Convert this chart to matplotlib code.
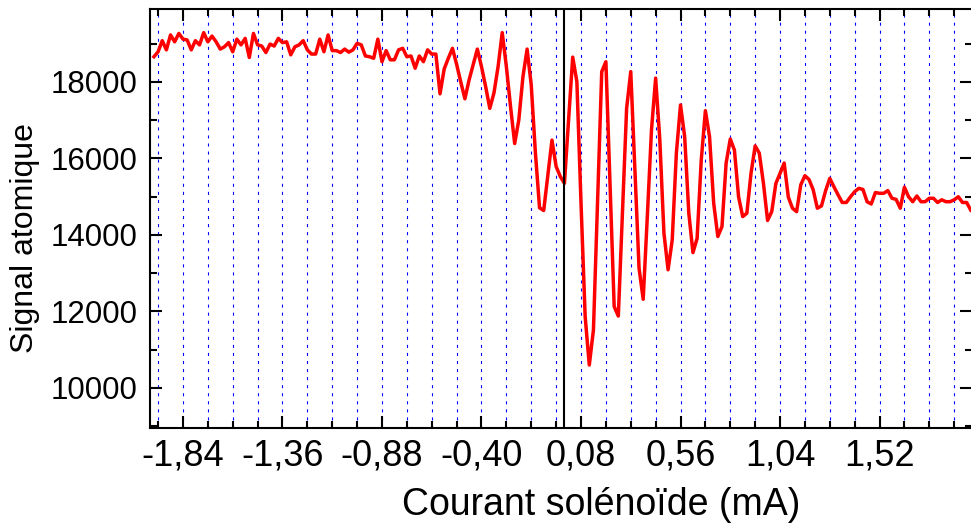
import numpy as np
import matplotlib
matplotlib.use('Agg')
import matplotlib.pyplot as plt
from matplotlib.ticker import MultipleLocator, FixedLocator, FuncFormatter

plt.rcParams['font.family'] = ['Liberation Sans', 'DejaVu Sans']
plt.rcParams['lines.scale_dashes'] = False

# Solenoid current sweep (mA), one sample every 0.02 mA starting at -1.98
x_start = -1.98
x_step = 0.02

signal = [
    18660, 18790, 19080, 18840, 19230, 19050, 19270, 19120, 19100, 18840,
    19080, 18970, 19290, 19050, 19200, 19050, 18860, 18920, 19030, 18790,
    19120, 18970, 19140, 18640, 19270, 18970, 18940, 18770, 18990, 18940,
    19140, 19030, 19050, 18710, 18920, 18970, 19080, 18840, 18730, 18730,
    19120, 18790, 19230, 18820, 18820, 18770, 18860, 18780, 18840, 19010,
    18970, 18680, 18660, 18620, 19120, 18530, 18820, 18580, 18580, 18840,
    18880, 18660, 18680, 18360, 18680, 18530, 18840, 18730, 18730, 17690,
    18340, 18620, 18880, 18460, 18000, 17560, 18050, 18450, 18860, 18400,
    17880, 17310, 17710, 18400, 19290, 18400, 17360, 16390, 17010, 18140,
    18860, 17920, 16150, 14710, 14640, 15570, 16480, 15790, 15530, 15350,
    17010, 18650, 18010, 14840, 11870, 10600, 11520, 14920, 18270, 18530,
    15360, 12130, 11880, 14600, 17310, 18270, 15700, 13130, 12320,
    14500, 16750, 18100, 16500, 14050, 13090, 13870, 16140, 17400, 16570,
    14570, 13540, 13910, 15960, 17250, 16570, 14830, 13960, 14220, 15880,
    16510, 16220, 15000, 14480, 14570, 15610, 16330, 16140, 15350, 14380,
    14610, 15350, 15610, 15880, 14990, 14700, 14610, 15310, 15550, 15450,
    15180, 14700, 14760, 15160, 15480, 15260, 15050, 14850, 14850, 15000,
    15130, 15220, 15190, 14870, 14810, 15110, 15090, 15090, 15160, 14960,
    14930, 14700, 15250, 15000, 14870, 15020, 14870, 14870, 14960, 14960,
    14850, 14920, 14870, 14870, 14920, 15000, 14850, 14850, 14650,
]
current = x_start + x_step * np.arange(len(signal))

x_major = [-1.84, -1.36, -0.88, -0.40, 0.08, 0.56, 1.04, 1.52]
y_major = [10000, 12000, 14000, 16000, 18000]

fig = plt.figure(figsize=(9.71, 5.23), dpi=100)
ax = fig.add_axes([150 / 971, (523 - 427.7) / 523, 822 / 971, 418.7 / 523])

ax.plot(current, signal, color='#ff0000', lw=2.5, zorder=3)
ax.axvline(0, color='black', lw=1.5, zorder=4)

ax.set_xlim(-1.999, 1.966)
ax.set_ylim(8962, 19908)

ax.xaxis.set_major_locator(FixedLocator(x_major))
ax.xaxis.set_minor_locator(MultipleLocator(0.12, offset=0.08))
ax.xaxis.set_major_formatter(FuncFormatter(lambda v, p: f'{v:.2f}'.replace('.', ',')))
ax.yaxis.set_major_locator(FixedLocator(y_major))
ax.yaxis.set_minor_locator(MultipleLocator(1000))

ax.grid(True, axis='x', which='both', color='blue', lw=0.8, ls=(0, (2.2, 3.6)))

ax.tick_params(which='both', direction='in', top=True, right=True, width=1.5, color='black')
ax.tick_params(which='major', length=8.5)
ax.tick_params(which='minor', length=5)
ax.tick_params(axis='x', which='major', labelsize=26, pad=8)
ax.tick_params(axis='y', which='major', labelsize=22.5, pad=9)

for s in ax.spines.values():
    s.set_linewidth(1.5)

ax.set_xlabel('Courant solénoïde (mA)', fontsize=27)
ax.xaxis.set_label_coords(0.549, -0.1416)
ax.set_ylabel('Signal atomique', fontsize=23)
ax.yaxis.set_label_coords(-0.1338, 0.453)

fig.savefig('out.png', dpi=100)
